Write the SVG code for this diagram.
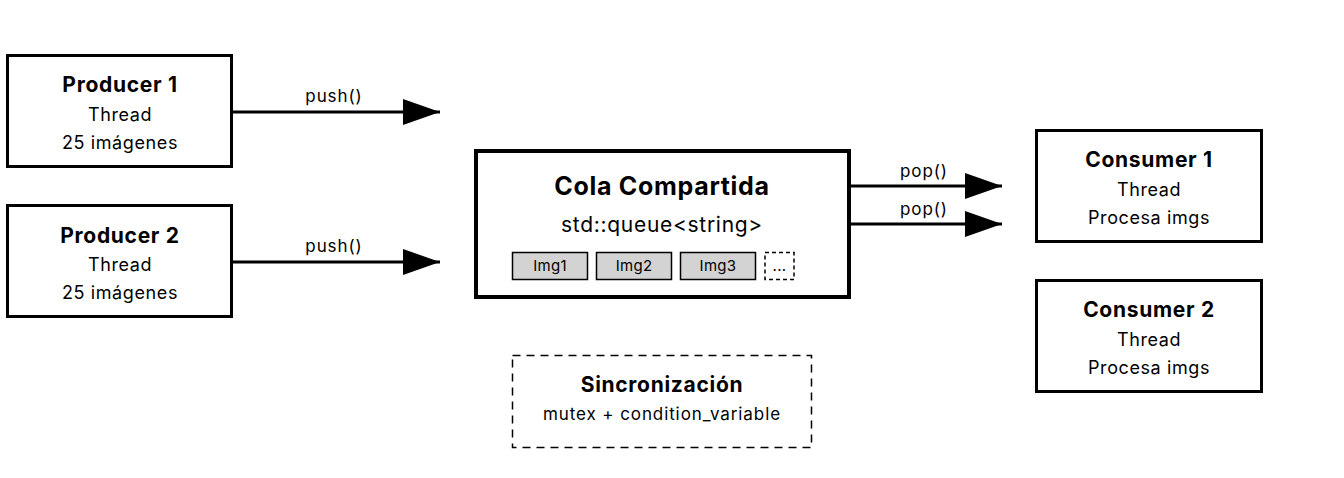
<svg xmlns="http://www.w3.org/2000/svg" width="1344" height="478" viewBox="0 0 1344 478">
<style>
text{font-family:Inter,"Liberation Sans",sans-serif;fill:#000;text-anchor:middle}
.box{fill:#fff;stroke:#000;stroke-width:3}
.t{font-size:21px;font-weight:bold;letter-spacing:0.7px}
.s{font-size:18px;letter-spacing:0.6px}
.lbl{font-size:17px;letter-spacing:0.9px}
.img{fill:#d3d3d3;stroke:#000;stroke-width:1.5}
.it{font-size:15px;letter-spacing:0.3px}
.ln{stroke:#000;stroke-width:3;fill:none}
</style>
<defs>
<marker id="ah" markerUnits="userSpaceOnUse" markerWidth="38" markerHeight="26" refX="37" refY="13" orient="auto">
<path d="M0,0 L37,13 L0,26 Z" fill="#000"/>
</marker>
</defs>
<rect width="1344" height="478" fill="#fff"/>
<g id="connectors">
<line class="ln" x1="232" y1="112" x2="440" y2="112" marker-end="url(#ah)"/>
<text class="lbl" x="334" y="102">push()</text>
<line class="ln" x1="232" y1="262" x2="440" y2="262" marker-end="url(#ah)"/>
<text class="lbl" x="334" y="252">push()</text>
<line class="ln" x1="850" y1="186" x2="1002" y2="186" marker-end="url(#ah)"/>
<text class="lbl" x="924" y="177">pop()</text>
<line class="ln" x1="850" y1="224" x2="1002" y2="224" marker-end="url(#ah)"/>
<text class="lbl" x="924" y="215">pop()</text>
</g>
<g id="producer1">
<rect class="box" x="7.5" y="55.5" width="224" height="111"/>
<text class="t" x="120" y="92">Producer 1</text>
<text class="s" x="120" y="121">Thread</text>
<text class="s" x="120" y="149">25 imágenes</text>
</g>
<g id="producer2">
<rect class="box" x="7.5" y="205.5" width="224" height="111"/>
<text class="t" x="120" y="243">Producer 2</text>
<text class="s" x="120" y="271">Thread</text>
<text class="s" x="120" y="299">25 imágenes</text>
</g>
<g id="cola">
<rect x="476" y="151" width="373" height="146" fill="#fff" stroke="#000" stroke-width="4"/>
<text x="662" y="195" font-size="25" font-weight="bold" letter-spacing="0.7">Cola Compartida</text>
<text x="662" y="232" font-size="21" letter-spacing="0.7">std::queue&lt;string&gt;</text>
<rect class="img" x="512.5" y="252.5" width="75" height="27"/>
<text class="it" x="550" y="271">Img1</text>
<rect class="img" x="596.5" y="252.5" width="75" height="27"/>
<text class="it" x="634" y="271">Img2</text>
<rect class="img" x="680.5" y="252.5" width="75" height="27"/>
<text class="it" x="718" y="271">Img3</text>
<rect x="765" y="252.5" width="29" height="27" fill="#fff" stroke="#000" stroke-width="1.5" stroke-dasharray="4 3"/>
<text class="it" x="779.5" y="271">...</text>
</g>
<g id="consumer1">
<rect class="box" x="1036.5" y="130.5" width="225" height="111"/>
<text class="t" x="1149" y="167">Consumer 1</text>
<text class="s" x="1149" y="196">Thread</text>
<text class="s" x="1149" y="224">Procesa imgs</text>
</g>
<g id="consumer2">
<rect class="box" x="1036.5" y="280.5" width="225" height="111"/>
<text class="t" x="1149" y="317">Consumer 2</text>
<text class="s" x="1149" y="346">Thread</text>
<text class="s" x="1149" y="374">Procesa imgs</text>
</g>
<g id="sync">
<rect x="512.5" y="355.5" width="299" height="92" fill="none" stroke="#000" stroke-width="1.5" stroke-dasharray="8 6"/>
<text class="t" x="662" y="392">Sincronización</text>
<text class="lbl" x="662" y="420">mutex + condition_variable</text>
</g>
</svg>
